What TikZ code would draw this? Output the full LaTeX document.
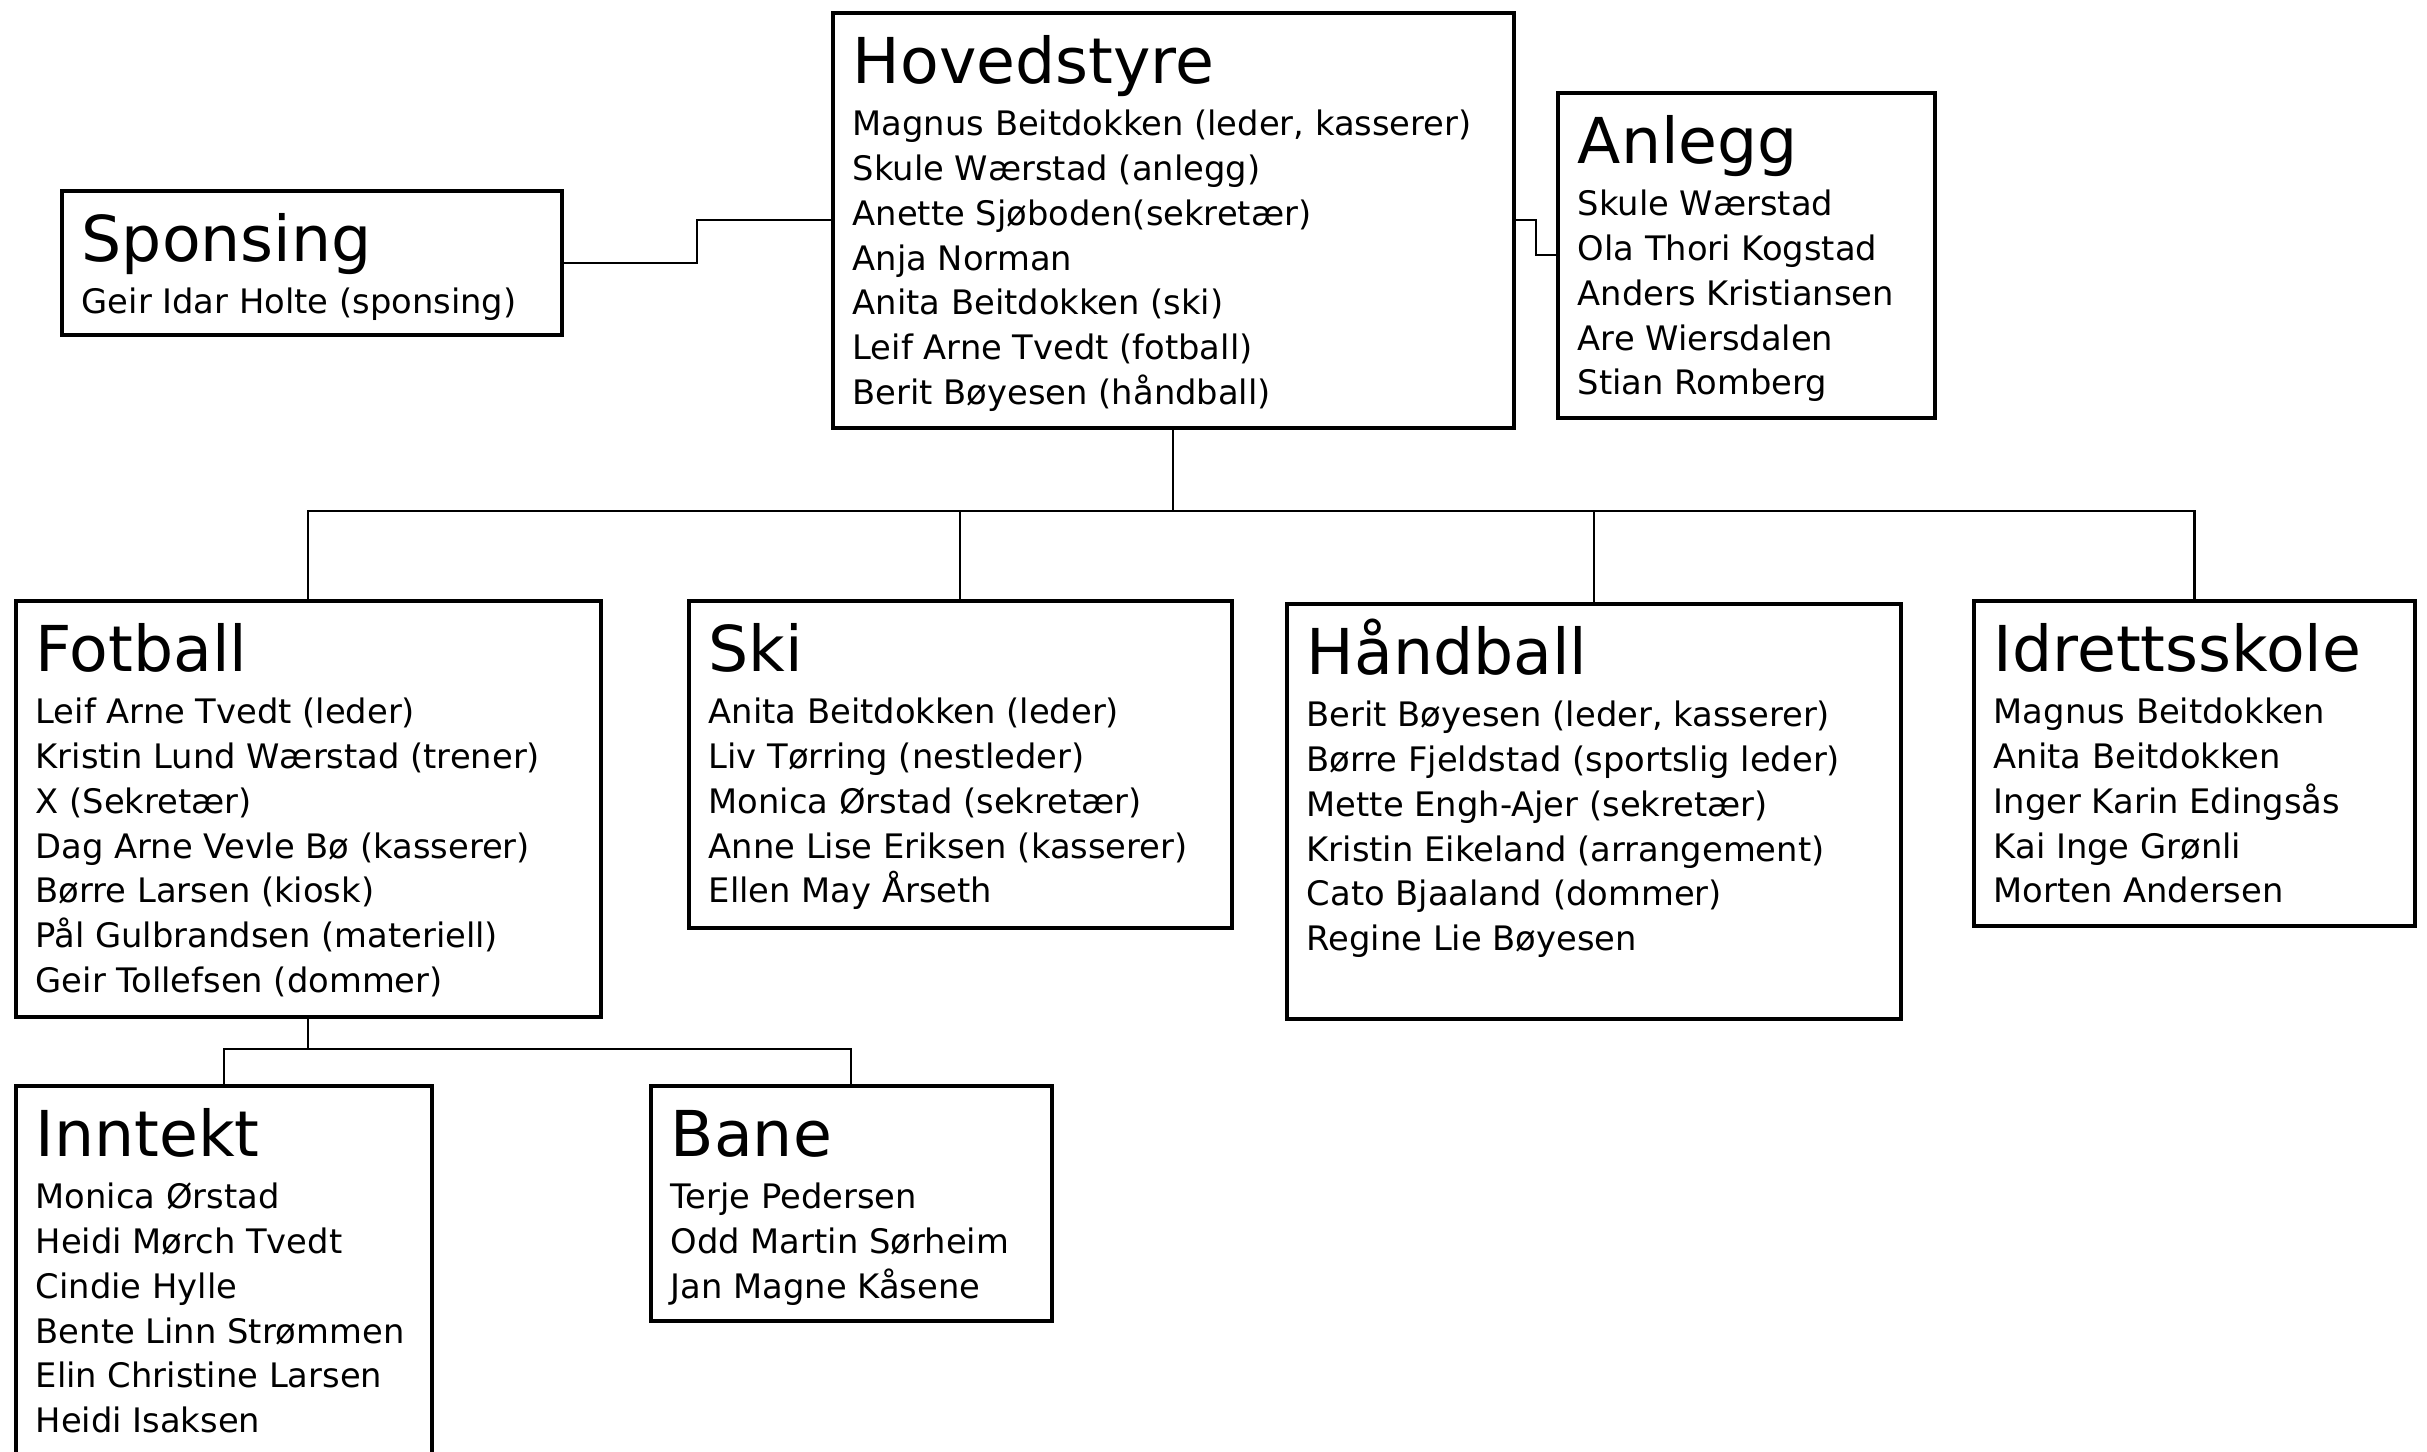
\documentclass[tikz,border=0pt]{standalone}
\usepackage{fontspec}
\setmainfont{DejaVu Sans}
\usetikzlibrary{calc}
\newcommand{\unittitle}{\fontsize{18}{22}\selectfont}
\newcommand{\unitbody}{\fontsize{9.6}{12.75}\selectfont}
\newcommand{\unitbox}[4]{\parbox[t][#2][t]{#1}{{\unittitle\rule{0pt}{0.51cm}\smash{#3}\par}\vspace{2pt}{\unitbody #4\par}}}

\begin{document}
\begin{tikzpicture}[
  unit/.style={rectangle, draw=black, line width=1pt, anchor=north west, inner sep=0.2cm},
  link/.style={line width=0.7pt, color=black}
]
\useasboundingbox (0,0) rectangle (24.27,-14.52);

% Board and the two units beside it
\node[unit] (hoved) at (8.31,-0.11) {\unitbox{6.41cm}{3.75cm}{Hovedstyre}{Magnus Beitdokken (leder, kasserer)\\Skule Wærstad (anlegg)\\Anette Sjøboden(sekretær)\\Anja Norman\\Anita Beitdokken (ski)\\Leif Arne Tvedt (fotball)\\Berit Bøyesen (håndball)}};
\node[unit] (anlegg) at (15.56,-0.91) {\unitbox{3.37cm}{2.85cm}{Anlegg}{Skule Wærstad\\Ola Thori Kogstad\\Anders Kristiansen\\Are Wiersdalen\\Stian Romberg}};
\node[unit] (spons) at (0.60,-1.89) {\unitbox{4.60cm}{1.04cm}{Sponsing}{Geir Idar Holte (sponsing)}};

% Groups
\node[unit] (fotball) at (0.14,-5.99) {\unitbox{5.45cm}{3.76cm}{Fotball}{Leif Arne Tvedt (leder)\\Kristin Lund Wærstad (trener)\\X (Sekretær)\\Dag Arne Vevle Bø (kasserer)\\Børre Larsen (kiosk)\\Pål Gulbrandsen (materiell)\\Geir Tollefsen (dommer)}};
\node[unit] (ski) at (6.87,-5.99) {\unitbox{5.03cm}{2.87cm}{Ski}{Anita Beitdokken (leder)\\Liv Tørring (nestleder)\\Monica Ørstad (sekretær)\\Anne Lise Eriksen (kasserer)\\Ellen May Årseth}};
\node[unit] (hand) at (12.85,-6.02) {\unitbox{5.74cm}{3.75cm}{Håndball}{Berit Bøyesen (leder, kasserer)\\Børre Fjeldstad (sportslig leder)\\Mette Engh-Ajer (sekretær)\\Kristin Eikeland (arrangement)\\Cato Bjaaland (dommer)\\Regine Lie Bøyesen}};
\node[unit] (idrett) at (19.72,-5.99) {\unitbox{4.01cm}{2.85cm}{Idrettsskole}{Magnus Beitdokken\\Anita Beitdokken\\Inger Karin Edingsås\\Kai Inge Grønli\\Morten Andersen}};

% Football subgroups
\node[unit] (inntekt) at (0.14,-10.84) {\unitbox{3.76cm}{3.6cm}{Inntekt}{Monica Ørstad\\Heidi Mørch Tvedt\\Cindie Hylle\\Bente Linn Strømmen\\Elin Christine Larsen\\Heidi Isaksen}};
\node[unit] (bane) at (6.49,-10.84) {\unitbox{3.61cm}{1.95cm}{Bane}{Terje Pedersen\\Odd Martin Sørheim\\Jan Magne Kåsene}};

% Side links
\draw[link] (spons.east) -| ($(spons.east)!0.5!(hoved.west)$) |- (hoved.west);
\draw[link] (hoved.east) -| ($(hoved.east)!0.5!(anlegg.west)$) |- (anlegg.west);

% Tree links
\coordinate (bus) at (0,-5.11);
\foreach \g in {fotball,ski,hand,idrett}
  \draw[link] (hoved.south) -- (hoved.south |- bus) -| (\g.north);
\coordinate (subbus) at (0,-10.49);
\foreach \g in {inntekt,bane}
  \draw[link] (fotball.south) -- (fotball.south |- subbus) -| (\g.north);

\end{tikzpicture}
\end{document}
